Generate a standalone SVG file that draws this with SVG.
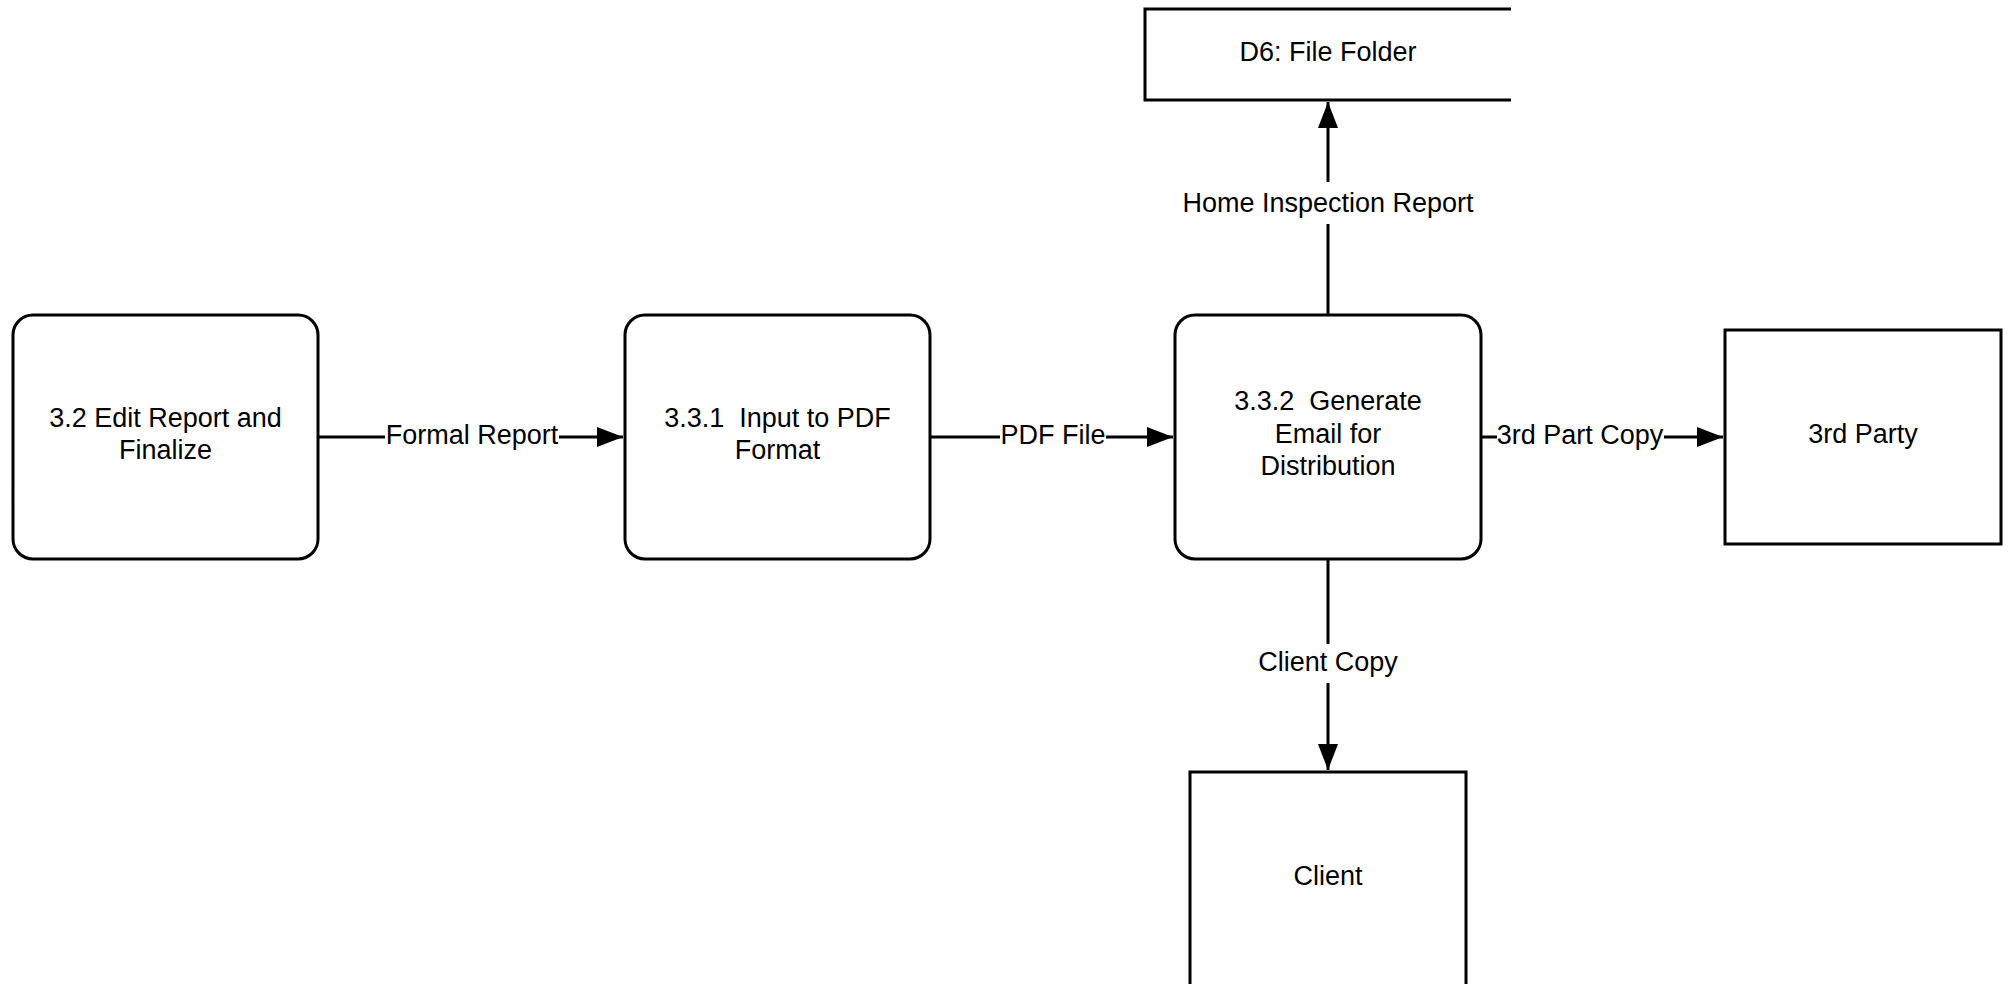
<svg xmlns="http://www.w3.org/2000/svg" width="2011" height="984" viewBox="0 0 2011 984">
  <style>
    .node { fill: #ffffff; stroke: #000000; stroke-width: 3; }
    .edge { fill: none; stroke: #000000; stroke-width: 3; }
    .lbl { font-family: "Liberation Sans", Arial, sans-serif; font-size: 27px; fill: #000000; text-anchor: middle; dominant-baseline: central; }
  </style>
  <defs>
    <marker id="arrow" viewBox="0 0 26 20" refX="26" refY="10" markerWidth="26" markerHeight="20" markerUnits="userSpaceOnUse" orient="auto">
      <path d="M0,0 L26,10 L0,20 Z" fill="#000000"/>
    </marker>
  </defs>
  <rect width="2011" height="984" fill="#ffffff"/>

  <!-- processes -->
  <g id="p32">
    <rect class="node" x="13" y="315" width="305" height="244" rx="20" ry="20"/>
    <text class="lbl" x="165.5" y="418">3.2 Edit Report and</text>
    <text class="lbl" x="165.5" y="450">Finalize</text>
  </g>
  <g id="p331">
    <rect class="node" x="625" y="315" width="305" height="244" rx="20" ry="20"/>
    <text class="lbl" x="777.5" y="418" xml:space="preserve">3.3.1  Input to PDF</text>
    <text class="lbl" x="777.5" y="450">Format</text>
  </g>
  <g id="p332">
    <rect class="node" x="1175" y="315" width="306" height="244" rx="20" ry="20"/>
    <text class="lbl" x="1328" y="401" xml:space="preserve">3.3.2  Generate</text>
    <text class="lbl" x="1328" y="434">Email for</text>
    <text class="lbl" x="1328" y="466">Distribution</text>
  </g>

  <!-- data store (open on the right) -->
  <g id="d6">
    <path class="node" d="M1511,9 L1145,9 L1145,100 L1511,100"/>
    <text class="lbl" x="1328" y="52">D6: File Folder</text>
  </g>

  <!-- external entities -->
  <g id="thirdParty">
    <rect class="node" x="1725" y="330" width="276" height="214"/>
    <text class="lbl" x="1863" y="434">3rd Party</text>
  </g>
  <g id="client">
    <rect class="node" x="1190" y="772" width="276" height="240"/>
    <text class="lbl" x="1328" y="876">Client</text>
  </g>

  <!-- flows -->
  <g id="connectors">
    <path class="edge" d="M318,437 L385,437"/>
    <path class="edge" d="M559,437 L623,437" marker-end="url(#arrow)"/>
    <text class="lbl" x="472" y="435">Formal Report</text>

    <path class="edge" d="M930,437 L1000,437"/>
    <path class="edge" d="M1106,437 L1173,437" marker-end="url(#arrow)"/>
    <text class="lbl" x="1053" y="435">PDF File</text>

    <path class="edge" d="M1481,437 L1497,437"/>
    <path class="edge" d="M1664,437 L1723,437" marker-end="url(#arrow)"/>
    <text class="lbl" x="1580" y="435">3rd Part Copy</text>

    <path class="edge" d="M1328,315 L1328,224"/>
    <path class="edge" d="M1328,182 L1328,102" marker-end="url(#arrow)"/>
    <text class="lbl" x="1328" y="203">Home Inspection Report</text>

    <path class="edge" d="M1328,559 L1328,644"/>
    <path class="edge" d="M1328,683 L1328,770" marker-end="url(#arrow)"/>
    <text class="lbl" x="1328" y="662">Client Copy</text>
  </g>
</svg>
